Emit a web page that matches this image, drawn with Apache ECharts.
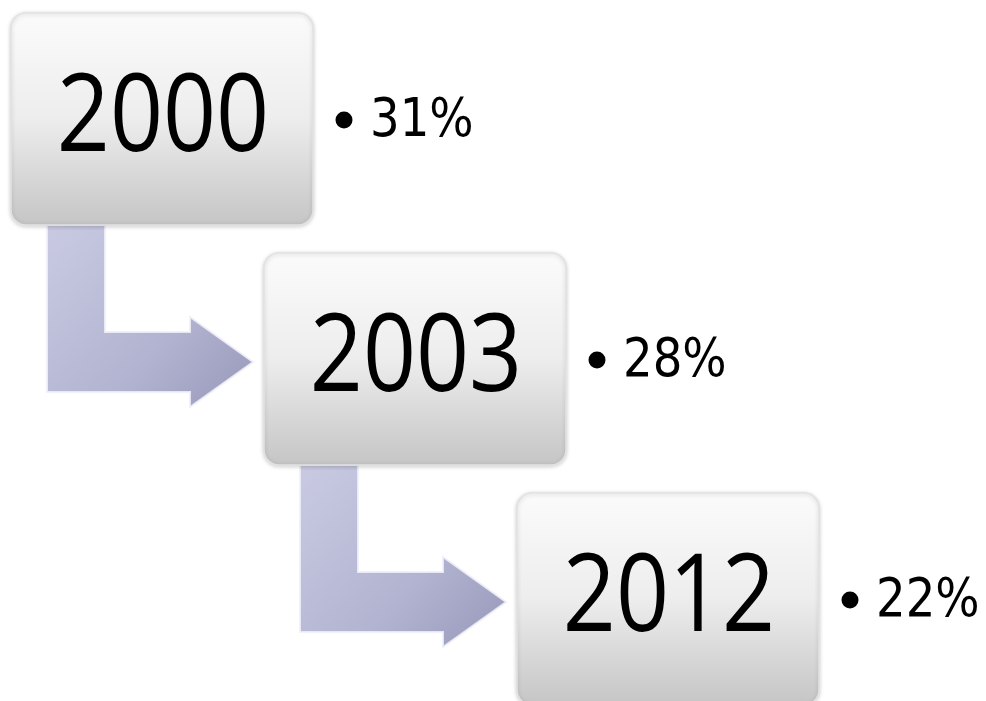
<!DOCTYPE html>
<html><head><meta charset="utf-8">
<script src="https://cdn.jsdelivr.net/npm/echarts@6/dist/echarts.min.js"></script>
<style>html,body{margin:0;padding:0;background:#fff}#c{width:986px;height:701px}</style>
</head><body><div id="c"></div>
<script>
const years = ['2000', '2003', '2012'];
const shares = [31, 28, 22];

// layout constants (pixels in a 986x701 value space)
const BOX_X0 = 11, BOX_Y0 = 13, BOX_W = 302, BOX_H = 212;
const STEP_X = 253, STEP_Y = 240;

const chart = echarts.init(document.getElementById('c'));
const data = years.map((y, i) => [i, y, shares[i]]);

function renderItem(params, api) {
  const i = api.value(0);
  const year = years[i];
  const share = shares[i];
  const bx = BOX_X0 + i * STEP_X, by = BOX_Y0 + i * STEP_Y;
  const p0 = api.coord([bx, by]);
  const p1 = api.coord([bx + BOX_W, by + BOX_H]);
  const w = p1[0] - p0[0], h = p1[1] - p0[1];
  const children = [];
  if (i < years.length - 1) {
    const ax = bx + 36, ay = by + 212;
    const pts = [
      [ax, ay], [ax + 58, ay], [ax + 58, ay + 107], [ax + 143, ay + 107],
      [ax + 143, ay + 92], [ax + 206, ay + 137], [ax + 143, ay + 182],
      [ax + 143, ay + 167], [ax, ay + 167]
    ].map(p => api.coord(p));
    children.push({
      type: 'polygon',
      shape: { points: pts },
      style: {
        fill: new echarts.graphic.LinearGradient(0, 0, 1, 1, [
          { offset: 0, color: '#c9cae2' },
          { offset: 0.6, color: '#b2b3d0' },
          { offset: 1, color: '#9798b9' }
        ]),
        stroke: 'rgba(240,240,252,0.85)',
        lineWidth: 2
      }
    });
  }
  children.push({
    type: 'rect',
    shape: { x: p0[0], y: p0[1], width: w, height: h, r: 15 },
    style: {
      fill: new echarts.graphic.LinearGradient(0, 0, 0, 1, [
        { offset: 0, color: '#fbfbfb' },
        { offset: 0.5, color: '#ededed' },
        { offset: 1, color: '#c5c5c5' }
      ]),
      stroke: '#e2e2e2',
      lineWidth: 1.5,
      shadowBlur: 4,
      shadowColor: 'rgba(0,0,0,0.18)',
      shadowOffsetY: 1
    }
  });
  children.push({
    type: 'text',
    x: p0[0] + w / 2 + 1,
    y: p0[1] + h / 2 + 1,
    scaleX: 0.86,
    style: {
      text: year,
      font: '108px "Open Sans"',
      fill: '#000',
      textAlign: 'center',
      textVerticalAlign: 'middle'
    }
  });
  const lp = api.coord([bx + BOX_W + 20, by + BOX_H / 2]);
  children.push({
    type: 'circle',
    shape: { cx: lp[0] + 11, cy: lp[1] + 1, r: 8.5 },
    style: { fill: '#000' }
  });
  children.push({
    type: 'text',
    x: lp[0] + 37,
    y: lp[1] + 3,
    scaleX: 0.88,
    style: {
      text: share + '%',
      font: '53px "DejaVu Sans"',
      fill: '#000',
      textAlign: 'left',
      textVerticalAlign: 'middle'
    }
  });
  return { type: 'group', children };
}

chart.setOption({
  animation: false,
  grid: { left: 0, right: 0, top: 0, bottom: 0 },
  xAxis: { type: 'value', min: 0, max: 986, show: false },
  yAxis: { type: 'value', min: 0, max: 701, inverse: true, show: false },
  series: [{
    type: 'custom',
    renderItem,
    data,
    clip: false,
    encode: { x: 0, y: 0 }
  }]
});
</script>
</body></html>
